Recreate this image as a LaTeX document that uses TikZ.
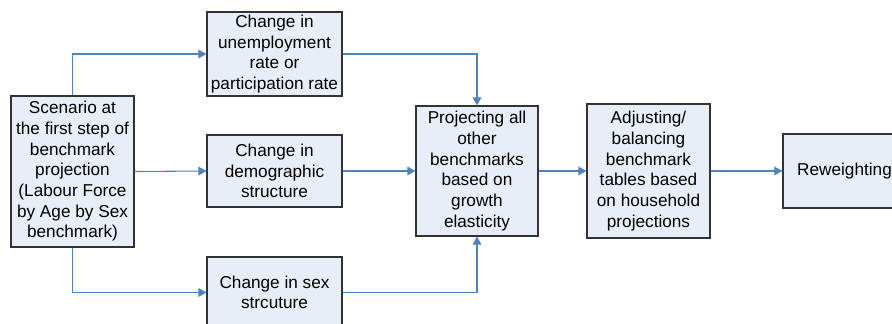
\documentclass[tikz,border=0pt]{standalone}
\usepackage{fontspec}
\setmainfont{Liberation Sans}
\usetikzlibrary{arrows.meta}
\definecolor{boxfill}{HTML}{E8EEF8}
\definecolor{arrowblue}{HTML}{4F81BD}
\definecolor{boxline}{HTML}{333333}
\tikzset{
  stepbox/.style={draw=boxline, line width=0.9pt, fill=boxfill, align=center,
    inner sep=0pt, font=\fontsize{12.9pt}{15.5pt}\selectfont},
  conn/.style={draw=arrowblue, line width=0.8pt, -{Triangle[length=6pt,width=6.5pt]}}
}
\begin{document}
\begin{tikzpicture}[x=0.75pt,y=-0.75pt]
\useasboundingbox (0,0) rectangle (892,324);
\node[stepbox, minimum width=92.25pt, minimum height=113.25pt] (scen) at (72.5,171.5)
  {Scenario at\\the first step of\\benchmark\\projection\\(Labour Force\\by Age by Sex\\benchmark)};
\node[stepbox, minimum width=101.25pt, minimum height=63pt] (unemp) at (274.5,54)
  {Change in\\unemployment\\rate or\\participation rate};
\node[stepbox, minimum width=101.25pt, minimum height=54pt] (demo) at (274.5,171)
  {Change in\\demographic\\structure};
\node[stepbox, minimum width=101.25pt, minimum height=53.25pt] (sex) at (274.5,292.5)
  {Change in sex\\strcuture};
\node[stepbox, minimum width=91.5pt, minimum height=97.5pt] (proj) at (477,171)
  {Projecting all\\other\\benchmarks\\based on\\growth\\elasticity};
\node[stepbox, minimum width=92.25pt, minimum height=100.5pt] (adj) at (648.5,171)
  {Adjusting/\\balancing\\benchmark\\tables based\\on household\\projections};
\node[stepbox, minimum width=92.25pt, minimum height=55.5pt] (rew) at (844.5,171)
  {Reweighting};
\draw[conn] (scen.north) |- (unemp.west);
\draw[conn] (scen.east) -- (demo.west);
\draw[conn] (scen.south) |- (sex.west);
\draw[conn] (unemp.east) -| (proj.north);
\draw[conn] (demo.east) -- (proj.west);
\draw[conn] (sex.east) -| (proj.south);
\draw[conn] (proj.east) -- (adj.west);
\draw[conn] (adj.east) -- (rew.west);
\end{tikzpicture}
\end{document}
